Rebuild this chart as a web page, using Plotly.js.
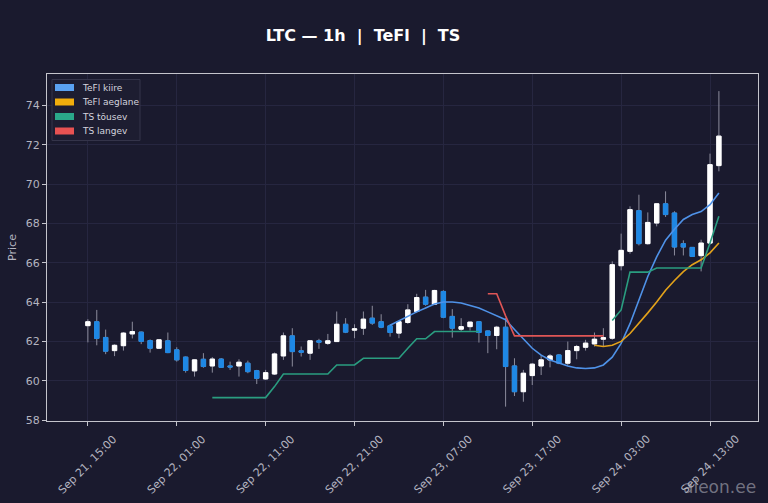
<!DOCTYPE html>
<html>
<head>
<meta charset="utf-8">
<script src="https://cdn.plot.ly/plotly-3.0.1.min.js"></script>
<style>
  html, body { margin: 0; padding: 0; background: #1a1a2e; }
  #chart { width: 768px; height: 503px; }
</style>
</head>
<body>
<div id="chart"></div>
<script>
// hourly candles, LTC, starting Sep 21 15:00
const START_TIME = "2024-09-21T15:00:00";

const opens = [
  62.8, 63.0, 62.2, 61.53, 61.78, 62.38, 62.47, 62.04, 61.65, 62.03,
  61.57, 61.2, 60.5, 61.09, 60.75, 61.1, 60.75, 60.75, 60.89, 60.51,
  60.09, 60.34, 61.26, 62.28, 61.52, 61.4, 62.03, 61.9, 61.99, 62.87,
  62.57, 62.67, 63.18, 63.0, 62.79, 62.42, 62.96, 63.52, 64.25, 63.89,
  64.54, 63.27, 62.62, 62.75, 63.0, 62.53, 62.3, 62.72, 60.75, 59.44,
  60.26, 60.75, 61.06, 61.31, 60.89, 61.53, 61.7, 61.87, 62.11, 62.16,
  65.85, 66.58, 68.65, 66.97, 68.02, 69.0, 68.53, 66.97, 66.78, 66.36,
  67.0, 70.94
];
const highs = [
  63.13, 63.6, 62.6, 61.85, 62.47, 63.0, 62.5, 62.1, 62.1, 62.45,
  61.7, 61.23, 61.08, 61.4, 61.2, 61.15, 60.97, 61.09, 61.02, 60.55,
  60.55, 61.43, 62.45, 62.67, 61.74, 62.05, 62.13, 62.38, 63.52, 63.18,
  62.87, 63.52, 63.81, 63.38, 62.87, 63.02, 63.89, 64.42, 64.62, 64.62,
  64.6, 63.64, 63.18, 63.0, 63.02, 62.55, 62.79, 63.18, 61.14, 60.55,
  60.89, 61.31, 61.36, 61.36, 61.99, 61.82, 62.08, 62.45, 62.67, 66.07,
  67.48, 68.87, 69.46, 68.56, 69.02, 69.63, 68.62, 67.14, 66.8, 67.17,
  71.55, 74.73
];
const lows = [
  61.95, 61.8, 61.35, 61.25, 61.53, 62.15, 61.86, 61.43, 61.63, 61.4,
  60.97, 60.41, 60.21, 60.66, 60.41, 60.65, 60.55, 60.21, 60.38, 59.83,
  60.04, 60.29, 61.06, 60.72, 61.23, 61.06, 61.62, 61.82, 61.97, 62.42,
  62.16, 62.33, 62.84, 62.67, 62.24, 62.16, 62.89, 63.44, 63.81, 63.86,
  63.18, 62.19, 62.5, 62.55, 61.94, 61.4, 61.6, 58.68, 59.22, 58.93,
  59.78, 60.29, 60.68, 60.84, 60.8, 61.09, 61.53, 61.74, 61.74, 62.08,
  65.61, 66.46, 66.88, 66.92, 67.85, 68.33, 66.37, 66.37, 66.3, 65.56,
  66.92, 70.65
];
const closes = [
  63.0, 62.15, 61.5, 61.8, 62.42, 62.5, 62.0, 61.65, 62.08, 61.43,
  61.06, 60.52, 61.06, 60.72, 61.1, 60.68, 60.7, 60.94, 60.46, 60.12,
  60.41, 61.36, 62.28, 61.48, 61.45, 62.03, 61.96, 62.03, 62.87, 62.47,
  62.64, 63.13, 62.93, 62.72, 62.45, 63.0, 63.6, 64.23, 63.89, 64.59,
  63.23, 62.67, 62.75, 62.98, 62.45, 62.3, 62.72, 60.72, 59.44, 60.38,
  60.84, 61.06, 61.26, 60.89, 61.53, 61.74, 61.91, 62.11, 62.19, 65.9,
  66.63, 68.7, 66.97, 68.05, 69.0, 68.45, 66.8, 66.8, 66.32, 67.0,
  70.99, 72.44
];

// indicator lines (null where not drawn)
const teflFast = [
  null, null, null, null, null, null, null, null, null, null,
  null, null, null, null, null, null, null, null, null, null,
  null, null, null, null, null, null, null, null, null, null,
  null, null, null, null, 62.82, 63.05, 63.3, 63.5, 63.7, 63.9,
  64.0, 64.0, 63.95, 63.83, 63.7, 63.5, 63.3, 63.1, 62.6, 62.1,
  61.65, 61.3, 61.05, 60.9, 60.75, 60.65, 60.62, 60.65, 60.8, 61.2,
  61.9, 62.9, 64.1, 65.3, 66.3, 67.15, 67.7, 68.2, 68.45, 68.6,
  68.95, 69.55
];
const teflSlow = [
  null, null, null, null, null, null, null, null, null, null,
  null, null, null, null, null, null, null, null, null, null,
  null, null, null, null, null, null, null, null, null, null,
  null, null, null, null, null, null, null, null, null, null,
  null, null, null, null, null, null, null, null, null, null,
  null, null, null, null, null, null, null, 61.8, 61.74, 61.8,
  62.0, 62.4, 62.9, 63.45, 64.0, 64.6, 65.1, 65.55, 65.9, 66.15,
  66.5, 67.0
];
const tsUp = [
  null, null, null, null, null, null, null, null, null, null,
  null, null, null, null, 59.14, 59.14, 59.14, 59.14, 59.14, 59.14,
  59.14, 59.7, 60.34, 60.34, 60.34, 60.34, 60.34, 60.34, 60.8, 60.8,
  60.8, 61.14, 61.14, 61.14, 61.14, 61.14, 61.65, 62.13, 62.13, 62.5,
  62.5, 62.5, 62.5, 62.5, 62.5, null, null, null, null, null,
  null, null, null, null, null, null, null, null, null, 63.06,
  63.6, 65.52, 65.52, 65.52, 65.73, 65.73, 65.73, 65.73, 65.73, 65.73,
  67.0, 68.37
];
const tsDown = [
  null, null, null, null, null, null, null, null, null, null,
  null, null, null, null, null, null, null, null, null, null,
  null, null, null, null, null, null, null, null, null, null,
  null, null, null, null, null, null, null, null, null, null,
  null, null, null, null, null, 64.42, 64.42, 63.3, 62.28, 62.28,
  62.28, 62.28, 62.28, 62.28, 62.28, 62.28, 62.28, 62.28, 62.28, null,
  null, null, null, null, null, null, null, null, null, null,
  null, null
];

const tickTimes = [
  "2024-09-21 15:00", "2024-09-22 01:00", "2024-09-22 11:00", "2024-09-22 21:00",
  "2024-09-23 07:00", "2024-09-23 17:00", "2024-09-24 03:00", "2024-09-24 13:00"
];
const tickLabels = [
  "Sep 21, 15:00", "Sep 22, 01:00", "Sep 22, 11:00", "Sep 22, 21:00",
  "Sep 23, 07:00", "Sep 23, 17:00", "Sep 24, 03:00", "Sep 24, 13:00"
];
const yTicks = [58, 60, 62, 64, 66, 68, 70, 72, 74];

const legendNames = ["TeFl kiire", "TeFl aeglane", "TS tõusev", "TS langev"];
const legendColors = ["#5aa2f2", "#f0ad0c", "#2aa88a", "#e85252"];

const COLORS = {
  bg: "#1a1a2e",
  up: "#ffffff",
  down: "#1e88e5",
  wick: "#8c8c9c",
  fast: "#4f92e8",
  slow: "#e3a21a",
  tsUp: "#2a9d80",
  tsDown: "#e05656",
  grid: "#262640",
  spine: "#c4c4cc",
  text: "#b4b4c0",
};

const HOUR = 3600 * 1000;
const t0 = new Date(START_TIME + "Z").getTime();
const fmt = (ms) => new Date(ms).toISOString().slice(0, 16).replace("T", " ");
const times = opens.map((_, i) => fmt(t0 + i * HOUR));

// bodies drawn separately so the wicks can stay grey
const bodyHigh = opens.map((o, i) => Math.max(o, closes[i]));
const bodyLow = opens.map((o, i) => Math.min(o, closes[i]));

const wicks = {
  type: "candlestick",
  x: times, open: opens, high: highs, low: lows, close: closes,
  increasing: { line: { color: COLORS.wick, width: 1 }, fillcolor: "rgba(0,0,0,0)" },
  decreasing: { line: { color: COLORS.wick, width: 1 }, fillcolor: "rgba(0,0,0,0)" },
  whiskerwidth: 0,
  showlegend: false,
  hoverinfo: "skip",
};
const bodies = {
  type: "candlestick",
  x: times, open: opens, high: bodyHigh, low: bodyLow, close: closes,
  increasing: { line: { color: COLORS.up, width: 1 }, fillcolor: COLORS.up },
  decreasing: { line: { color: COLORS.down, width: 1 }, fillcolor: COLORS.down },
  whiskerwidth: 0,
  showlegend: false,
  hoverinfo: "skip",
};

function lineTrace(y, color) {
  return {
    type: "scatter", mode: "lines", x: times, y,
    line: { color, width: 1.6 },
    connectgaps: false, showlegend: false, hoverinfo: "skip",
  };
}

const traces = [
  wicks, bodies,
  lineTrace(teflFast, COLORS.fast),
  lineTrace(teflSlow, COLORS.slow),
  lineTrace(tsUp, COLORS.tsUp),
  lineTrace(tsDown, COLORS.tsDown),
];

// plot area in pixels, used for the hand-made legend box
const PLOT = { l: 47, r: 758, t: 74, b: 421 };
const px = (x) => (x - PLOT.l) / (PLOT.r - PLOT.l);
const py = (y) => (PLOT.b - y) / (PLOT.b - PLOT.t);

const shapes = [{
  type: "rect", xref: "paper", yref: "paper",
  x0: px(52), x1: px(140), y0: py(140.5), y1: py(79.5),
  fillcolor: "#1d1d31", line: { color: "#34344a", width: 1 },
}];
const annotations = [];

legendNames.forEach((name, i) => {
  const cy = 87.5 + i * 14.5;
  shapes.push({
    type: "rect", xref: "paper", yref: "paper",
    x0: px(55), x1: px(74), y0: py(cy + 3.5), y1: py(cy - 3.5),
    fillcolor: legendColors[i], line: { width: 0 },
  });
  annotations.push({
    text: name, xref: "paper", yref: "paper",
    x: px(80), y: py(cy), xanchor: "left", yanchor: "middle",
    showarrow: false, font: { size: 9, color: "#d4d4de" },
  });
});

// x tick labels centred under the ticks, matplotlib style
tickTimes.forEach((t, i) => {
  annotations.push({
    text: tickLabels[i], xref: "x", yref: "paper",
    x: t, y: 0, xanchor: "center", yanchor: "top", yshift: -9,
    textangle: -45, showarrow: false,
    font: { size: 11, color: COLORS.text },
  });
});

annotations.push({
  text: "aieon.ee", xref: "paper", yref: "paper",
  x: 1.0, y: -0.19, xanchor: "right", yanchor: "middle",
  showarrow: false, font: { size: 17, color: "rgba(190,190,200,0.55)" },
});

const layout = {
  width: 768, height: 503,
  paper_bgcolor: COLORS.bg, plot_bgcolor: COLORS.bg,
  margin: { l: PLOT.l, r: 768 - PLOT.r, t: PLOT.t, b: 503 - PLOT.b },
  font: { family: "DejaVu Sans, sans-serif", color: COLORS.text, size: 11 },
  title: {
    text: "<b>LTC — 1h  |  TeFl  |  TS</b>",
    font: { size: 16, color: "#ffffff" },
    x: 363 / 768, xanchor: "center", y: 0.93, yanchor: "middle", yref: "container",
  },
  showlegend: false,
  xaxis: {
    type: "date",
    range: [fmt(t0 - 4.6 * HOUR), fmt(t0 + 75.4 * HOUR)],
    tickvals: tickTimes, showticklabels: false,
    ticks: "outside", ticklen: 4, tickcolor: COLORS.spine,
    showgrid: true, gridcolor: COLORS.grid, gridwidth: 1,
    showline: true, linecolor: COLORS.spine, linewidth: 1, mirror: true,
    zeroline: false, rangeslider: { visible: false },
    fixedrange: true,
  },
  yaxis: {
    range: [57.95, 75.6],
    tickvals: yTicks,
    tickfont: { size: 11, color: COLORS.text },
    ticks: "outside", ticklen: 4, tickcolor: COLORS.spine,
    showgrid: true, gridcolor: COLORS.grid, gridwidth: 1,
    showline: true, linecolor: COLORS.spine, linewidth: 1, mirror: true,
    zeroline: false,
    title: { text: "Price", font: { size: 11, color: COLORS.text }, standoff: 6 },
    fixedrange: true,
  },
  shapes,
  annotations,
};

Plotly.newPlot("chart", traces, layout, { displayModeBar: false, staticPlot: true });
</script>
</body>
</html>
